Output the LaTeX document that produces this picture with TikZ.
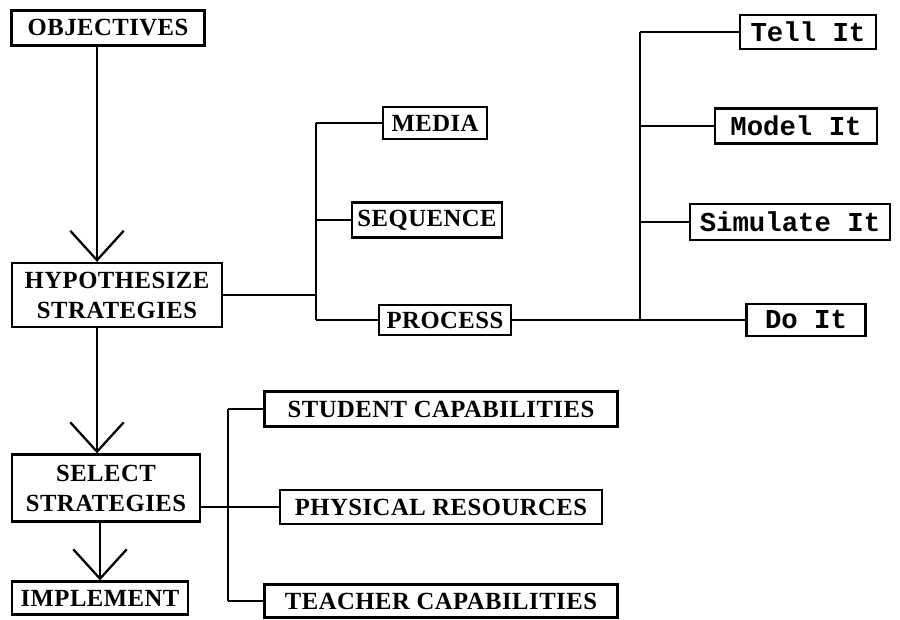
\documentclass[tikz,border=0pt]{standalone}
\usepackage{fontspec}
\usetikzlibrary{arrows.meta}
\newfontfamily\capfont[LetterSpace=2]{Liberation Serif}
\newfontfamily\typefont{Liberation Mono}
\begin{document}
\begin{tikzpicture}[x=0.75pt,y=-0.75pt,
  bx/.style 2 args={draw, line width=1.7pt, minimum width=#1*0.75pt, minimum height=#2*0.75pt, inner sep=0pt, align=center},
  captxt/.style={font=\capfont\bfseries\fontsize{18.5}{22.5}\selectfont},
  typetxt/.style={font=\typefont\bfseries\fontsize{20.5}{24}\selectfont},
  conn/.style={line width=1.7pt},
  flow/.style={line width=1.7pt, -{Straight Barb[length=22pt,width=40pt,line width=1.7pt]}}]
\path[use as bounding box, fill=white] (0,0) rectangle (900,619);

% left column
\node[bx={193}{35},captxt] (obj) at (108,28) {OBJECTIVES};
\node[bx={210}{64},captxt] (hyp) at (117,295) {HYPOTHESIZE\\STRATEGIES};
\node[bx={188}{67},captxt] (sel) at (106,488) {SELECT\\STRATEGIES};
\node[bx={176}{33},captxt] (impl) at (100,598) {IMPLEMENT};

% strategy elements
\node[bx={104}{32},captxt] (media) at (435,123) {MEDIA};
\node[bx={150}{35},captxt] (seq) at (427,220) {SEQUENCE};
\node[bx={132}{30},captxt] (proc) at (445,320) {PROCESS};

% process types
\node[bx={136}{34},typetxt] (tell) at (808,32) {Tell It};
\node[bx={162}{35},typetxt] (model) at (796,126) {Model It};
\node[bx={200}{36},typetxt] (sim) at (790,222) {Simulate It};
\node[bx={119}{32},typetxt] (doit) at (806,320) {Do It};

% selection factors
\node[bx={353}{35},captxt] (stud) at (441,409) {STUDENT CAPABILITIES};
\node[bx={322}{34},captxt] (phys) at (441,507) {PHYSICAL RESOURCES};
\node[bx={353}{33},captxt] (teach) at (441,601) {TEACHER CAPABILITIES};

% trunk positions
\coordinate (ax) at (97,0);
\coordinate (bx2) at (100,0);
\coordinate (lt) at (316,0);
\coordinate (rt) at (640,0);
\coordinate (bt) at (228,0);

% main flow
\draw[flow] (obj.south -| ax) -- (hyp.north -| ax);
\draw[flow] (hyp.south -| ax) -- (sel.north -| ax);
\draw[flow] (sel.south -| bx2) -- (impl.north -| bx2);

% hypothesize branches
\draw[conn] (hyp.east) -- (hyp.east -| lt);
\draw[conn] (media.west -| lt) -- (proc.west -| lt);
\draw[conn] (media.west -| lt) -- (media.west);
\draw[conn] (seq.west -| lt) -- (seq.west);
\draw[conn] (proc.west -| lt) -- (proc.west);

% process branches
\draw[conn] (proc.east) -- (doit.west);
\draw[conn] (tell.west -| rt) -- (doit.west -| rt);
\draw[conn] (tell.west -| rt) -- (tell.west);
\draw[conn] (model.west -| rt) -- (model.west);
\draw[conn] (sim.west -| rt) -- (sim.west);

% select branches
\draw[conn] (sel.east |- phys.west) -- (phys.west);
\draw[conn] (stud.west -| bt) -- (teach.west -| bt);
\draw[conn] (stud.west -| bt) -- (stud.west);
\draw[conn] (teach.west -| bt) -- (teach.west);
\end{tikzpicture}
\end{document}
